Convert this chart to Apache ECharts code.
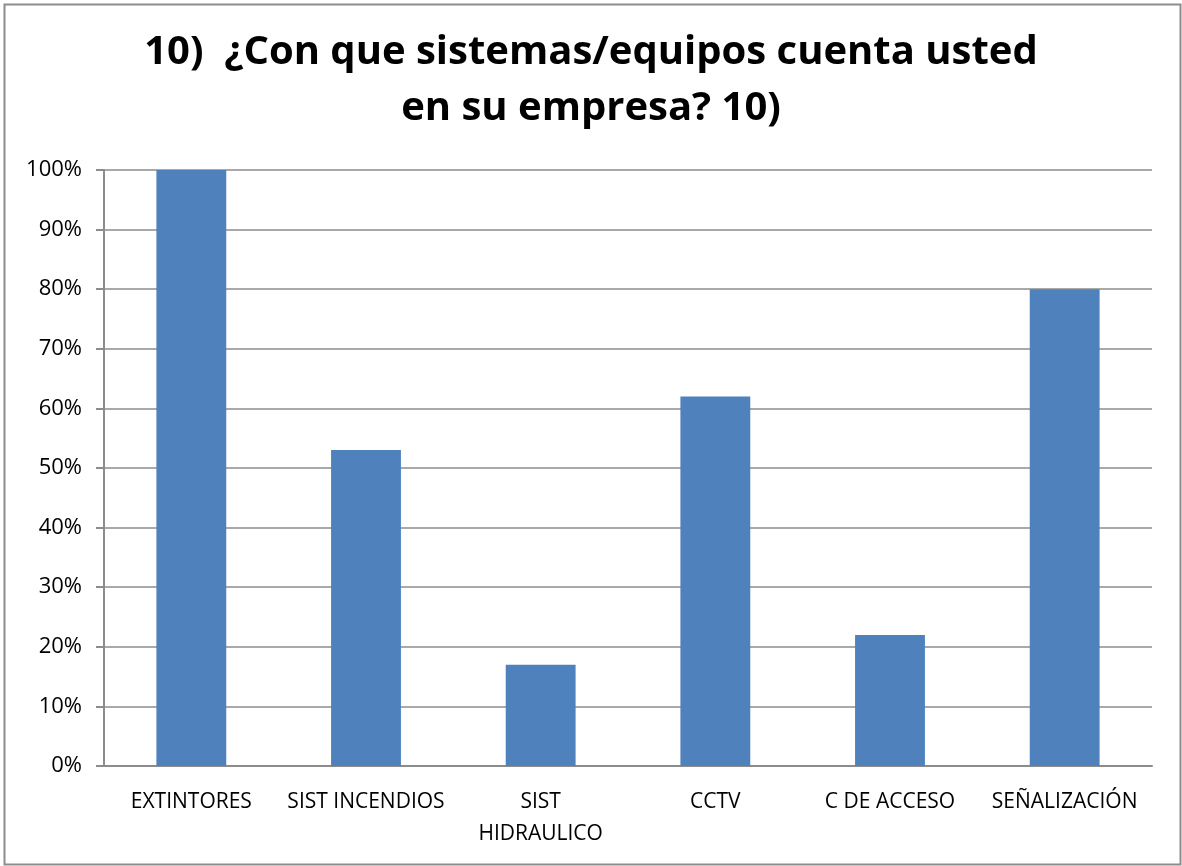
<!DOCTYPE html>
<html>
<head>
<meta charset="utf-8">
<script src="https://cdn.jsdelivr.net/npm/echarts@6/dist/echarts.min.js"></script>
<style>
  html, body { margin: 0; padding: 0; background: #fff; }
  #chart { width: 1182px; height: 866px; }
</style>
</head>
<body>
<div id="chart"></div>
<script>
const categories = ['EXTINTORES', 'SIST INCENDIOS', 'SIST\nHIDRAULICO', 'CCTV', 'C DE ACCESO', 'SEÑALIZACIÓN'];
const values = [100, 53, 17, 62, 22, 80];
const titleText = '10)  ¿Con que sistemas/equipos cuenta usted\nen su empresa? 10)';

const chart = echarts.init(document.getElementById('chart'));

const option = {
  animation: false,
  backgroundColor: '#fff',
  graphic: [{
    type: 'rect',
    left: 2, top: 2,
    shape: { width: 1176, height: 860 },
    style: { fill: 'none', stroke: '#8c8c8c', lineWidth: 2 }
  }],
  title: {
    text: titleText,
    left: 'center',
    top: 20,
    textStyle: {
      fontFamily: 'Open Sans',
      fontWeight: 'bold',
      fontSize: 40,
      lineHeight: 56,
      color: '#000'
    }
  },
  grid: {
    left: 104,
    right: 30,
    top: 170,
    bottom: 100,
    containLabel: false
  },
  xAxis: {
    type: 'category',
    data: categories,
    axisLine: { show: true, lineStyle: { color: '#8c8c8c', width: 2 } },
    axisTick: { show: false },
    axisLabel: {
      color: '#000',
      fontFamily: 'Open Sans',
      fontSize: 21,
      lineHeight: 32,
      margin: 20,
      interval: 0
    }
  },
  yAxis: {
    type: 'value',
    min: 0,
    max: 100,
    interval: 10,
    axisLine: { show: true, lineStyle: { color: '#8c8c8c', width: 2 } },
    axisTick: { show: true, length: 8, lineStyle: { color: '#8c8c8c', width: 2 } },
    splitLine: { show: true, lineStyle: { color: '#8c8c8c', width: 1.5 } },
    axisLabel: {
      color: '#000',
      fontFamily: 'Open Sans',
      fontSize: 22,
      margin: 22,
      formatter: '{value}%'
    }
  },
  series: [{
    type: 'bar',
    data: values,
    barWidth: '40%',
    itemStyle: { color: '#4f81bd' }
  }]
};

chart.setOption(option);
</script>
</body>
</html>
